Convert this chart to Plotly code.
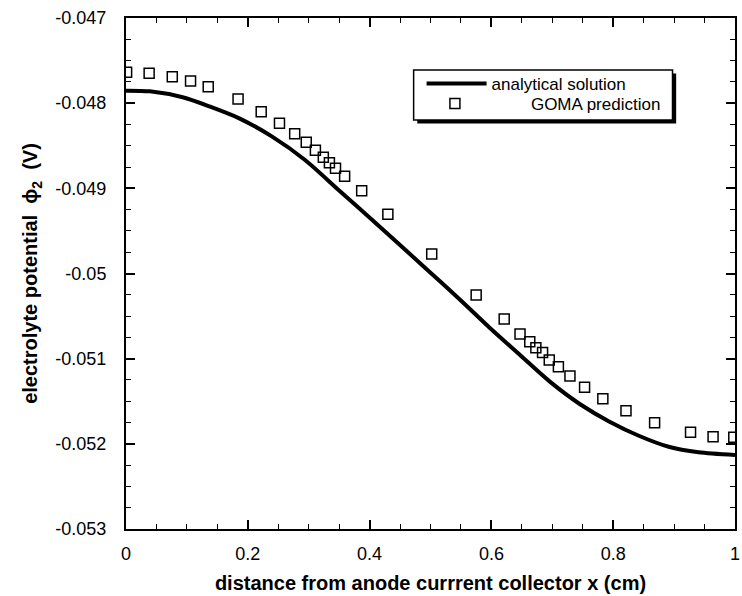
import plotly.graph_objects as go

# Analytical solution
x_analytic = [0.0, 0.039, 0.093, 0.137, 0.186, 0.240, 0.294, 0.349, 0.403,
              0.500, 0.549, 0.598, 0.647, 0.696, 0.745, 0.794, 0.843, 0.891, 0.940, 1.0]
y_analytic = [-0.047853, -0.047861, -0.047931, -0.048038, -0.048178, -0.048393,
              -0.048667, -0.049019, -0.049364, -0.049990, -0.050311,
              -0.050643, -0.050957, -0.051270, -0.051532, -0.051740, -0.051908,
              -0.052034, -0.052099, -0.052131]

# GOMA prediction
x_goma = [0.001, 0.038, 0.076, 0.106, 0.135, 0.184, 0.222, 0.252, 0.277, 0.296,
          0.311, 0.324, 0.334, 0.344, 0.359, 0.387, 0.430, 0.502, 0.575, 0.621,
          0.647, 0.663, 0.673, 0.684, 0.695, 0.710, 0.729, 0.753, 0.783, 0.821,
          0.868, 0.927, 0.964, 0.998]
y_goma = [-0.047637, -0.047650, -0.047689, -0.047740, -0.047806, -0.047951,
          -0.048100, -0.048237, -0.048358, -0.048460, -0.048554, -0.048636,
          -0.048699, -0.048765, -0.048859, -0.049028, -0.049305, -0.049771,
          -0.050252, -0.050534, -0.050710, -0.050800, -0.050871, -0.050929,
          -0.051015, -0.051094, -0.051203, -0.051336, -0.051470, -0.051611,
          -0.051752, -0.051865, -0.051916, -0.051923]

x_ticks = [0, 0.2, 0.4, 0.6, 0.8, 1]
x_ticklabels = ["0", "0.2", "0.4", "0.6", "0.8", "1"]
y_ticks = [-0.047, -0.048, -0.049, -0.05, -0.051, -0.052, -0.053]
y_ticklabels = ["-0.047", "-0.048", "-0.049", "-0.05", "-0.051", "-0.052", "-0.053"]

FONT = "Liberation Sans, Arial, Helvetica, sans-serif"

fig = go.Figure()
fig.add_trace(go.Scatter(
    x=x_analytic, y=y_analytic, mode="lines", name="analytical solution",
    line=dict(color="black", width=4, shape="spline", smoothing=0.8),
    legend="legend",
))
fig.add_trace(go.Scatter(
    x=x_goma, y=y_goma, mode="markers", name="GOMA prediction",
    marker=dict(symbol="square-open", size=10, color="black",
                line=dict(width=1.5, color="black")),
    legend="legend2",
))

axis_common = dict(
    showline=True, linecolor="black", linewidth=2, mirror="allticks",
    ticks="inside", ticklen=9, tickwidth=1.5, tickcolor="black",
    showgrid=False, zeroline=False,
    tickfont=dict(family=FONT, size=18, color="black"),
    ticklabeloverflow="allow",
)

fig.update_xaxes(
    range=[0, 1], tickvals=x_ticks, ticktext=x_ticklabels,
    minor=dict(ticks="inside", ticklen=5, dtick=0.05, tickwidth=1, tickcolor="black", showgrid=False),
    title=dict(text="<b>distance from anode currrent collector x (cm)</b>",
               font=dict(family=FONT, size=20, color="black"), standoff=13),
    ticklabelstandoff=7,
    **axis_common,
)
fig.update_yaxes(
    range=[-0.053, -0.047], tickvals=y_ticks, ticktext=y_ticklabels,
    minor=dict(ticks="inside", ticklen=5, dtick=0.00025, tickwidth=1, tickcolor="black", showgrid=False),
    title=dict(text="<b>electrolyte potential  \u03d5<sub>2</sub>  (V)</b>",
               font=dict(family=FONT, size=20, color="black"), standoff=12),
    ticklabelstandoff=14,
    **axis_common,
)

# legend box with drop shadow
bx0, bx1, by0, by1 = 0.4723, 0.8974, 0.8004, 0.8982
fig.add_shape(type="rect", xref="paper", yref="paper",
              x0=bx0 + 0.006, x1=bx1 + 0.006, y0=by0 - 0.007, y1=by1 - 0.007,
              fillcolor="black", line=dict(width=0), layer="below")
fig.add_shape(type="rect", xref="paper", yref="paper",
              x0=bx0, x1=bx1, y0=by0, y1=by1,
              fillcolor="white", line=dict(color="black", width=1.5), layer="below")

leg_font = dict(family=FONT, size=17, color="black")
fig.update_layout(
    width=742, height=596,
    margin=dict(l=126, r=2, t=18, b=67),
    paper_bgcolor="white", plot_bgcolor="white",
    font=dict(family=FONT, color="black"),
    showlegend=True,
    legend=dict(
        x=(424 - 126) / 614, y=(529 - 84) / 511, xanchor="left", yanchor="middle",
        bgcolor="rgba(0,0,0,0)", borderwidth=0, font=leg_font, itemwidth=60,
    ),
    legend2=dict(
        x=(381 - 126) / 614, y=(529 - 104) / 511, xanchor="left", yanchor="middle",
        bgcolor="rgba(0,0,0,0)", borderwidth=0, font=leg_font, itemwidth=142,
    ),
)

fig.write_html("out.html")
